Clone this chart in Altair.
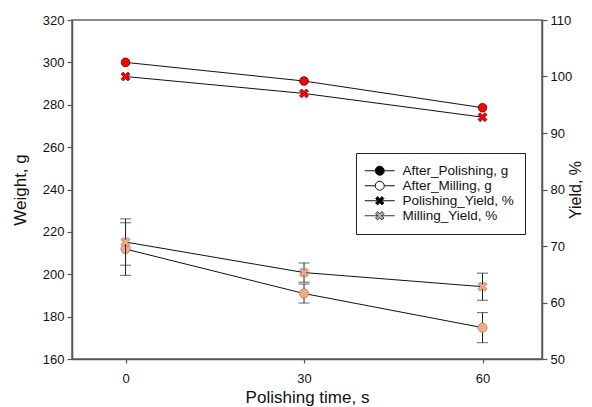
import altair as alt
import pandas as pd

# ---- data ----
times = [0, 30, 60]
after_polishing = [300.0, 291.2, 278.6]
after_milling = [211.9, 190.9, 174.8]
after_milling_err = [12.4, 4.5, 7.1]
polishing_yield = [100.0, 97.0, 92.8]
milling_yield = [70.7, 65.3, 62.8]
milling_yield_err = [4.1, 1.7, 2.4]

legend_labels = ["After_Polishing, g", "After_Milling, g", "Polishing_Yield, %", "Milling_Yield, %"]

df = pd.DataFrame({
    "time": times,
    "ap": after_polishing,
    "am": after_milling,
    "am_lo": [v - e for v, e in zip(after_milling, after_milling_err)],
    "am_hi": [v + e for v, e in zip(after_milling, after_milling_err)],
    "py": polishing_yield,
    "my": milling_yield,
    "my_lo": [v - e for v, e in zip(milling_yield, milling_yield_err)],
    "my_hi": [v + e for v, e in zip(milling_yield, milling_yield_err)],
})

# legend-only rows (drawn outside the x domain and clipped away)
leg_df = pd.DataFrame({"series": legend_labels, "time": [-100] * 4, "w": [240] * 4})

FONT = "Liberation Sans"
RED = "#ff0000"
PEACH = "#f8a97f"

X_PATH = ("M0.834,-0.438L0.396,0L0.834,0.438L0.438,0.834L0,0.396L-0.438,0.834"
          "L-0.834,0.438L-0.396,0L-0.834,-0.438L-0.438,-0.834L0,-0.396L0.438,-0.834Z")
CIRC_LEG = "M-3,0L-0.9,0M0.9,0L3,0M0.9,0A0.9,0.9,0,1,1,-0.9,0A0.9,0.9,0,1,1,0.9,0Z"
X_LEG = "M-3,0L-0.4,0M0.4,0L3,0M" + X_PATH[1:]

x_scale = alt.Scale(domain=[-9, 70], nice=False, zero=False)
x_axis = alt.Axis(title="Polishing time, s", values=[0, 30, 60], tickSize=4,
                  labelPadding=9, titlePadding=4, grid=False)
yw_scale = alt.Scale(domain=[160, 320], nice=False, zero=False)
yy_scale = alt.Scale(domain=[50, 110], nice=False, zero=False)
left_axis = alt.Axis(title="Weight, g", values=list(range(160, 321, 20)), tickSize=5,
                     labelPadding=3, titlePadding=13, grid=False)
right_axis = alt.Axis(title="Yield, %", orient="right", values=list(range(50, 111, 10)),
                      tickSize=5, labelPadding=3, titlePadding=-4, grid=False,
                      titleAngle=270, titleBaseline="top", titleFontSize=16)


def X():
    return alt.X("time:Q", scale=x_scale, axis=x_axis)


def YW(field):
    return alt.Y(f"{field}:Q", scale=yw_scale, axis=left_axis)


def YY(field):
    return alt.Y(f"{field}:Q", scale=yy_scale, axis=right_axis)


base = alt.Chart(df)

# ---- weight (left axis) ----
ap_line = base.mark_line(color="#111", strokeWidth=1).encode(x=X(), y=YW("ap"))
ap_pts = base.mark_point(shape="circle", filled=True, fill=RED, stroke="#500", strokeWidth=0.8,
                         size=75, opacity=1).encode(x=X(), y=YW("ap"))
am_line = base.mark_line(color="#111", strokeWidth=1).encode(x=X(), y=YW("am"))
am_rule = base.mark_rule(color="#222", strokeWidth=1).encode(x=X(), y=YW("am_lo"), y2="am_hi:Q")
am_cap_lo = base.mark_tick(orient="horizontal", color="#222", size=11, thickness=1).encode(x=X(), y=YW("am_lo"))
am_cap_hi = base.mark_tick(orient="horizontal", color="#222", size=11, thickness=1).encode(x=X(), y=YW("am_hi"))
am_pts = base.mark_point(shape="circle", filled=True, fill=PEACH, stroke="#a07060", strokeWidth=0.7,
                         size=85, opacity=1).encode(x=X(), y=YW("am"))

legend_layer = alt.Chart(leg_df).mark_point(filled=True, clip=True, opacity=1, size=100,
                                            strokeWidth=1).encode(
    x=alt.X("time:Q", scale=x_scale, axis=x_axis),
    y=alt.Y("w:Q", scale=yw_scale, axis=left_axis),
    shape=alt.Shape("series:N", scale=alt.Scale(domain=legend_labels,
                                                range=[CIRC_LEG, CIRC_LEG, X_LEG, X_LEG]),
                    legend=alt.Legend(title=None)),
    fill=alt.Fill("series:N", scale=alt.Scale(domain=legend_labels,
                                              range=["#000000", "#ffffff", "#000000", "#b0b0b0"]),
                  legend=alt.Legend(title=None)),
    stroke=alt.Stroke("series:N", scale=alt.Scale(domain=legend_labels,
                                                  range=["#111111", "#111111", "#111111", "#333333"]),
                      legend=alt.Legend(title=None)),
)

left = alt.layer(ap_line, am_line, am_rule, am_cap_lo, am_cap_hi, ap_pts, am_pts, legend_layer)

# ---- yield (right axis) ----
py_line = base.mark_line(color="#111", strokeWidth=1).encode(x=X(), y=YY("py"))
py_pts = base.mark_point(shape=X_PATH, filled=True, fill=RED, stroke="#500", strokeWidth=0.7,
                         size=115, opacity=1).encode(x=X(), y=YY("py"))
my_line = base.mark_line(color="#111", strokeWidth=1).encode(x=X(), y=YY("my"))
my_rule = base.mark_rule(color="#222", strokeWidth=1).encode(x=X(), y=YY("my_lo"), y2="my_hi:Q")
my_cap_lo = base.mark_tick(orient="horizontal", color="#222", size=11, thickness=1).encode(x=X(), y=YY("my_lo"))
my_cap_hi = base.mark_tick(orient="horizontal", color="#222", size=11, thickness=1).encode(x=X(), y=YY("my_hi"))
my_pts = base.mark_point(shape=X_PATH, filled=True, fill=PEACH, stroke="#807070", strokeWidth=0.7,
                         size=115, opacity=1).encode(x=X(), y=YY("my"))

right = alt.layer(py_line, my_line, my_rule, my_cap_lo, my_cap_hi, py_pts, my_pts)

chart = alt.layer(left, right).resolve_scale(y="independent").properties(
    width=470, height=339,
    autosize=alt.AutoSizeParams(type="none"),
    padding={"left": 64, "top": 12, "right": 42, "bottom": 48},
).configure(
    font=FONT,
).configure_view(
    stroke="#666", strokeWidth=1.5,
).configure_axis(
    labelFont=FONT, titleFont=FONT, labelFontSize=13, titleFontSize=17,
    titleFontWeight="normal", labelColor="#111", titleColor="#111",
    domainColor="#555", domainWidth=1.5, tickColor="#555", tickWidth=1.2,
).configure_legend(
    orient="none", legendX=284, legendY=133,
    strokeColor="#222", strokeWidth=1, fillColor="white", padding=11,
    labelFont=FONT, labelFontSize=13.5, labelColor="#111",
    symbolSize=100, symbolStrokeWidth=1, symbolOpacity=1,
    symbolOffset=6, labelOffset=16, rowPadding=0, cornerRadius=0,
)

chart.save("out.html", embed_options={"renderer": "svg", "actions": False})
